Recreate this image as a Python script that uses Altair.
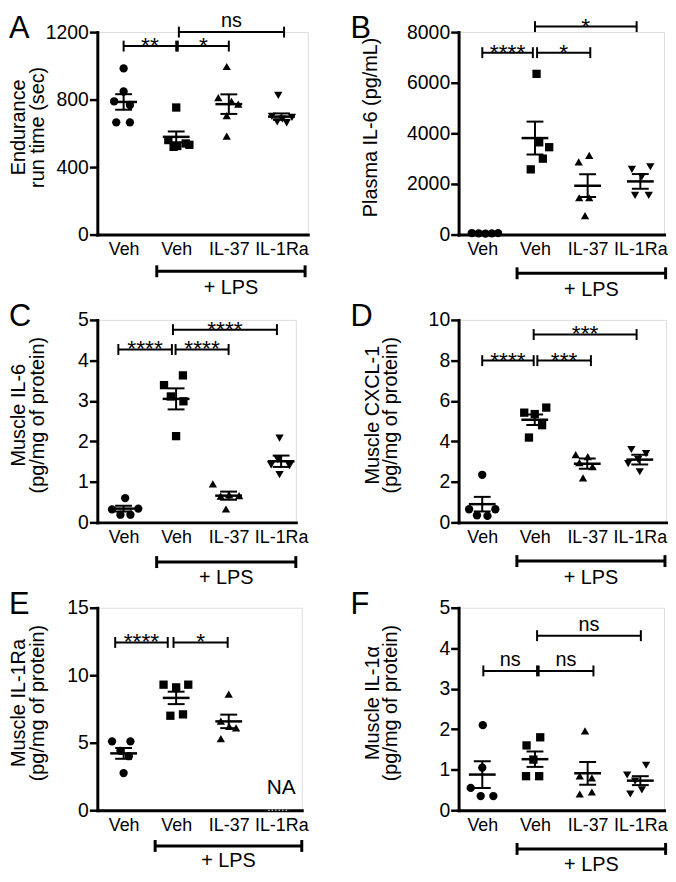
import json
import pandas as pd
import altair as alt

FONT = "Liberation Sans"
CATEGORIES = ["Veh", "Veh", "IL-37", "IL-1Ra"]
SHAPES = ["circle", "square", "triangle-up", "triangle-down"]
LPS_LABEL = "+ LPS"

# ---------------- Panel A : Endurance run time (sec)
A_GROUP = [0] * 6 + [1] * 6 + [2] * 6 + [3] * 6
A_VALUE = [985, 848, 790, 768, 665, 665,
           753, 560, 525, 540, 520, 532,
           996, 812, 790, 773, 705, 583,
           825, 700, 695, 685, 668, 662]
A_JITTER = [0.0, 0.0, -0.18, 0.12, -0.14, 0.12,
            0.0, -0.15, 0.02, 0.18, -0.05, 0.25,
            -0.04, -0.2, 0.05, 0.18, -0.04, -0.04,
            -0.06, -0.18, 0.2, 0.02, -0.08, 0.1]
A_MEAN = [786, 579, 773, 699]
A_SEM = [46, 32, 58, 19]
A_SIG_FROM = [0.0, 1.03, 1.05]
A_SIG_TO = [1.0, 2.0, 3.05]
A_SIG_Y = [1117, 1117, 1200]
A_SIG_LABEL = ["**", "*", "ns"]
A_YTICKS = [0, 400, 800, 1200]

# ---------------- Panel B : Plasma IL-6 (pg/mL)
B_GROUP = [0] * 5 + [1] * 5 + [2] * 5 + [3] * 5
B_VALUE = [60, 50, 40, 45, 55,
           6350, 3645, 3452, 3000, 2576,
           3130, 2872, 1455, 1455, 747,
           2576, 2679, 2293, 1546, 1546]
B_JITTER = [-0.2, -0.07, 0.06, 0.18, 0.3,
            0.03, 0.08, 0.27, 0.15, -0.08,
            0.03, -0.17, -0.16, 0.03, -0.05,
            -0.16, 0.19, 0.03, -0.1, 0.16]
B_MEAN = [45, 3813, 1932, 2100]
B_SEM = [5, 650, 450, 290]
B_SIG_FROM = [0.0, 1.04, 1.0]
B_SIG_TO = [0.96, 2.05, 2.93]
B_SIG_Y = [7187, 7187, 8217]
B_SIG_LABEL = ["****", "*", "*"]
B_YTICKS = [0, 2000, 4000, 6000, 8000]

# ---------------- Panel C : Muscle IL-6
C_GROUP = [0] * 5 + [1] * 5 + [2] * 5 + [3] * 5
C_VALUE = [0.60, 0.32, 0.19, 0.19, 0.34,
           3.63, 3.39, 3.11, 2.99, 2.13,
           0.95, 0.68, 0.65, 0.66, 0.33,
           2.08, 1.55, 1.42, 1.40, 1.18]
C_JITTER = [0.03, -0.22, -0.06, 0.13, 0.28,
            0.13, -0.23, -0.1, 0.14, 0.0,
            -0.3, 0.01, -0.15, 0.2, -0.05,
            -0.03, -0.06, -0.19, 0.16, -0.03]
C_MEAN = [0.34, 3.05, 0.66, 1.51]
C_SEM = [0.07, 0.26, 0.10, 0.14]
C_SIG_FROM = [-0.1, 0.99, 0.94]
C_SIG_TO = [0.92, 2.0, 2.92]
C_SIG_Y = [4.27, 4.27, 4.76]
C_SIG_LABEL = ["****", "****", "****"]
C_YTICKS = [0, 1, 2, 3, 4, 5]

# ---------------- Panel D : Muscle CXCL-1
D_GROUP = [0] * 5 + [1] * 5 + [2] * 5 + [3] * 5
D_VALUE = [2.35, 0.65, 0.65, 0.35, 0.32,
           5.67, 5.42, 5.35, 4.80, 4.19,
           3.35, 3.25, 2.95, 2.75, 2.20,
           3.60, 3.40, 3.10, 2.90, 2.50]
D_JITTER = [0.0, -0.25, 0.25, -0.1, 0.1,
            0.22, -0.2, 0.0, 0.14, -0.11,
            -0.22, 0.01, -0.15, 0.1, -0.08,
            -0.16, 0.12, -0.03, -0.22, 0.0]
D_MEAN = [0.90, 5.07, 2.90, 3.10]
D_SEM = [0.36, 0.26, 0.25, 0.24]
D_SIG_FROM = [0.0, 1.05, 0.98]
D_SIG_TO = [0.98, 2.07, 2.94]
D_SIG_Y = [7.99, 7.99, 9.28]
D_SIG_LABEL = ["****", "***", "***"]
D_YTICKS = [0, 2, 4, 6, 8, 10]

# ---------------- Panel E : Muscle IL-1Ra (IL-1Ra group not available)
E_GROUP = [0] * 5 + [1] * 5 + [2] * 5
E_VALUE = [5.1, 5.1, 4.4, 4.0, 2.75,
           9.3, 9.1, 9.3, 7.0, 7.1,
           8.6, 6.6, 6.1, 6.2, 5.3]
E_JITTER = [-0.22, 0.13, -0.06, 0.1, 0.0,
            -0.24, 0.0, 0.23, -0.11, 0.13,
            0.0, -0.15, 0.14, 0.01, -0.15]
E_MEAN = [4.21, 8.32, 6.58]
E_SEM = [0.40, 0.46, 0.50]
E_SIG_FROM = [-0.16, 0.95]
E_SIG_TO = [0.84, 1.98]
E_SIG_Y = [12.43, 12.43]
E_SIG_LABEL = ["****", "*"]
E_YTICKS = [0, 5, 10, 15]
E_NA_TEXT = "NA"

# ---------------- Panel F : Muscle IL-1alpha
F_GROUP = [0] * 5 + [1] * 5 + [2] * 5 + [3] * 5
F_VALUE = [2.1, 1.05, 0.55, 0.35, 0.35,
           1.8, 1.6, 1.25, 0.84, 0.84,
           1.96, 0.85, 0.80, 0.40, 0.45,
           0.87, 1.11, 0.72, 0.40, 0.50]
F_JITTER = [0.01, 0.0, -0.22, -0.03, 0.21,
            0.1, -0.16, -0.03, -0.17, 0.08,
            -0.05, -0.15, 0.08, -0.15, 0.08,
            -0.25, 0.11, -0.1, -0.19, 0.03]
F_MEAN = [0.88, 1.26, 0.91, 0.73]
F_SEM = [0.33, 0.19, 0.28, 0.11]
F_SIG_FROM = [0.02, 1.07, 1.04]
F_SIG_TO = [1.04, 2.11, 3.01]
F_SIG_Y = [3.44, 3.44, 4.31]
F_SIG_LABEL = ["ns", "ns", "ns"]
F_YTICKS = [0, 1, 2, 3, 4, 5]

# ---------------- layout (pixels)
H = 204
PX_PER_UNIT = 53
LABEL_EXPR = json.dumps(CATEGORIES) + "[datum.value]"


def make_panel(letter, title, group, value, jitter, mean, sem,
               sig_from, sig_to, sig_y, sig_label, yticks,
               xmin, xmax, lps_from, lps_to, lps_y, lps_ty,
               letter_x, title_x, na=None):
    W = round((xmax - xmin) * PX_PER_UNIT)
    xs = alt.Scale(domain=[xmin, xmax], nice=False, zero=False)
    ys = alt.Scale(domain=[yticks[0], yticks[-1]], nice=False)
    xaxis = alt.Axis(values=[0, 1, 2, 3], labelExpr=LABEL_EXPR, ticks=False,
                     grid=False, domainWidth=3, domainColor="black",
                     domainCap="square", labelFontSize=18, labelColor="black",
                     labelFont=FONT, labelPadding=6, labelOverlap=False,
                     labelFlush=False, title=None)
    yaxis = alt.Axis(values=yticks, format="d", grid=False, tickSize=8,
                     tickWidth=2.5, tickColor="black", domainWidth=3,
                     domainColor="black", domainCap="square", labelFontSize=19.5,
                     labelColor="black", labelFont=FONT, labelPadding=1,
                     title=None)

    def X(f):
        return alt.X(f, scale=xs, axis=xaxis)

    def Y(f):
        return alt.Y(f, scale=ys, axis=yaxis)

    layers = []

    pts = pd.DataFrame({"g": group, "v": value, "j": jitter})
    pts["x"] = pts["g"] + pts["j"]
    layers.append(
        alt.Chart(pts).mark_point(filled=True, opacity=1, color="black", size=70).encode(
            x=X("x:Q"), y=Y("v:Q"),
            shape=alt.Shape("g:O", scale=alt.Scale(domain=[0, 1, 2, 3], range=SHAPES), legend=None),
        )
    )

    ms = pd.DataFrame({"g": list(range(len(mean))), "m": mean, "s": sem})
    ms["lo"] = ms["m"] - ms["s"]
    ms["hi"] = ms["m"] + ms["s"]
    layers.append(alt.Chart(ms).mark_tick(orient="horizontal", size=27, thickness=2.5,
                                          color="black", opacity=1).encode(x=X("g:Q"), y=Y("m:Q")))
    layers.append(alt.Chart(ms).mark_rule(strokeWidth=2, color="black").encode(
        x=X("g:Q"), y=Y("lo:Q"), y2="hi:Q"))
    for f in ["lo", "hi"]:
        layers.append(alt.Chart(ms).mark_tick(orient="horizontal", size=17, thickness=2,
                                              color="black", opacity=1).encode(x=X("g:Q"), y=Y(f + ":Q")))

    sg = pd.DataFrame({"x1": sig_from, "x2": sig_to, "y": sig_y, "t": sig_label})
    sg["xm"] = (sg["x1"] + sg["x2"]) / 2
    layers.append(alt.Chart(sg).mark_rule(strokeWidth=2, color="black").encode(
        x=X("x1:Q"), x2="x2:Q", y=Y("y:Q")))
    for f in ["x1", "x2"]:
        layers.append(alt.Chart(sg).mark_tick(orient="vertical", size=11, thickness=2,
                                              color="black", opacity=1).encode(x=X(f + ":Q"), y=Y("y:Q")))
    stars = sg[sg["t"] != "ns"]
    if len(stars):
        layers.append(alt.Chart(stars).mark_text(fontSize=23, dy=7, baseline="alphabetic",
                                                 font=FONT, color="black").encode(
            x=X("xm:Q"), y=Y("y:Q"), text="t:N"))
    ns = sg[sg["t"] == "ns"]
    if len(ns):
        layers.append(alt.Chart(ns).mark_text(fontSize=20, dy=-5, baseline="alphabetic",
                                              font=FONT, color="black").encode(
            x=X("xm:Q"), y=Y("y:Q"), text="t:N"))

    lp = pd.DataFrame({"x1": [lps_from], "x2": [lps_to], "t": [LPS_LABEL]})
    lp["xm"] = (lp["x1"] + lp["x2"]) / 2
    layers.append(alt.Chart(lp).mark_rule(strokeWidth=3, color="black").encode(
        x=X("x1:Q"), x2="x2:Q", y=alt.value(H + lps_y)))
    for f in ["x1", "x2"]:
        layers.append(alt.Chart(lp).mark_rule(strokeWidth=3, color="black").encode(
            x=X(f + ":Q"), y=alt.value(H + lps_y - 6), y2=alt.value(H + lps_y + 6)))
    layers.append(alt.Chart(lp).mark_text(fontSize=20, baseline="alphabetic", font=FONT,
                                          color="black").encode(
        x=X("xm:Q"), y=alt.value(H + lps_ty), text="t:N"))

    if na is not None:
        nd = pd.DataFrame({"x": [3], "x1": [2.75], "x2": [3.15], "y": [0], "t": [na]})
        layers.append(alt.Chart(nd).mark_text(fontSize=21, baseline="alphabetic", font=FONT,
                                              color="black").encode(
            x=X("x:Q"), y=alt.value(H - 16), text="t:N"))
        layers.append(alt.Chart(nd).mark_rule(strokeWidth=1, color="white",
                                              strokeDash=[1.5, 2]).encode(
            x=X("x1:Q"), x2="x2:Q", y=Y("y:Q")))

    ld = pd.DataFrame({"t": [letter]})
    layers.append(alt.Chart(ld).mark_text(fontSize=31, align="left", baseline="alphabetic",
                                          font=FONT, color="black").encode(
        x=alt.value(letter_x), y=alt.value(6), text="t:N"))

    for line, bx in zip(title, title_x):
        td = pd.DataFrame({"t": [line]})
        layers.append(alt.Chart(td).mark_text(fontSize=20, angle=270, align="center",
                                              baseline="alphabetic", font=FONT,
                                              color="black").encode(
            x=alt.value(bx), y=alt.value(round(H * 0.47)), text="t:N"))

    return alt.layer(*layers).properties(width=W, height=H)


pa = make_panel("A", ["Endurance", "run time (sec)"], A_GROUP, A_VALUE, A_JITTER, A_MEAN, A_SEM,
                A_SIG_FROM, A_SIG_TO, A_SIG_Y, A_SIG_LABEL, A_YTICKS,
                -0.5, 3.5, 0.63, 3.45, 37, 60, -89, [-73, -54])
pb = make_panel("B", ["Plasma IL-6 (pg/mL)"], B_GROUP, B_VALUE, B_JITTER, B_MEAN, B_SEM,
                B_SIG_FROM, B_SIG_TO, B_SIG_Y, B_SIG_LABEL, B_YTICKS,
                -0.45, 3.45, 0.66, 3.48, 39, 62, -109, [-82])
pc = make_panel("C", ["Muscle IL-6", "(pg/mg of protein)"], C_GROUP, C_VALUE, C_JITTER, C_MEAN, C_SEM,
                C_SIG_FROM, C_SIG_TO, C_SIG_Y, C_SIG_LABEL, C_YTICKS,
                -0.5, 3.28, 0.63, 3.28, 40, 62, -89, [-73, -54])
pd_ = make_panel("D", ["Muscle CXCL-1", "(pg/mg of protein)"], D_GROUP, D_VALUE, D_JITTER, D_MEAN, D_SEM,
                 D_SIG_FROM, D_SIG_TO, D_SIG_Y, D_SIG_LABEL, D_YTICKS,
                 -0.45, 3.5, 0.66, 3.48, 39, 62, -109, [-80, -62])
pe = make_panel("E", ["Muscle IL-1Ra", "(pg/mg of protein)"], E_GROUP, E_VALUE, E_JITTER, E_MEAN, E_SEM,
                E_SIG_FROM, E_SIG_TO, E_SIG_Y, E_SIG_LABEL, E_YTICKS,
                -0.5, 3.39, 0.6, 3.39, 36, 57, -89, [-73, -54], na=E_NA_TEXT)
pf = make_panel("F", ["Muscle IL-1α", "(pg/mg of protein)"], F_GROUP, F_VALUE, F_JITTER, F_MEAN, F_SEM,
                F_SIG_FROM, F_SIG_TO, F_SIG_Y, F_SIG_LABEL, F_YTICKS,
                -0.45, 3.45, 0.66, 3.48, 39, 61, -109, [-80, -62])

chart = alt.concat(pa, pb, pc, pd_, pe, pf, columns=2,
                   spacing={"row": 86, "column": 152}, bounds="flush").properties(
    padding={"left": 0, "top": -1, "right": 0, "bottom": -4}
).configure_view(stroke=None).configure(font=FONT)

chart.save("out.html", embed_options={"renderer": "svg", "actions": False})
